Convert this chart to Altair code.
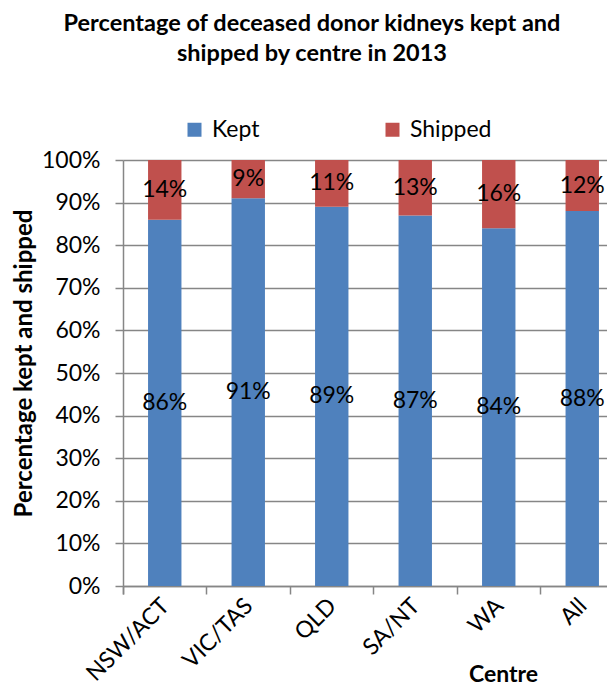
import altair as alt
import pandas as pd

centres = ["NSW/ACT", "VIC/TAS", "QLD", "SA/NT", "WA", "All"]
kept = [86, 91, 89, 87, 84, 88]
shipped = [14, 9, 11, 13, 16, 12]
series = ["Kept", "Shipped"]
colors = ["#4F81BD", "#C0504D"]
y_ticks = [0, 0.1, 0.2, 0.3, 0.4, 0.5, 0.6, 0.7, 0.8, 0.9, 1.0]

rows = []
for c, k, s in zip(centres, kept, shipped):
    rows.append({"centre": c, "type": "Kept", "order": 0, "value": k / 100, "label": f"{k}%"})
    rows.append({"centre": c, "type": "Shipped", "order": 1, "value": s / 100, "label": f"{s}%"})
df = pd.DataFrame(rows)

FONT = "Lato"
GRID = "#868686"
FS = 23

x_enc = alt.X(
    "centre:N",
    sort=centres,
    scale=alt.Scale(paddingInner=0, paddingOuter=0, range=[0, 501]),
    axis=alt.Axis(
        title="Centre",
        titleFont=FONT, titleFontSize=23, titleFontWeight="bold", titleColor="black",
        titleX=380, titleY=88, titleAlign="center", titleBaseline="middle", titleAngle=0,
        labelAngle=-45, labelAlign="right", labelBaseline="middle",
        labelFont=FONT, labelFontSize=FS, labelColor="black",
        labelOffset=1, labelPadding=8,
        bandPosition=0, tickExtra=True,
        tickColor=GRID, tickSize=8, tickWidth=1.5,
        domainColor=GRID, domainWidth=1.5, grid=False,
    ),
)

bars = alt.Chart(df).mark_bar(width=alt.RelativeBandSize(0.4)).encode(
    x=x_enc,
    y=alt.Y(
        "value:Q",
        stack="zero",
        scale=alt.Scale(domain=[0, 1], nice=False),
        axis=alt.Axis(
            values=y_ticks, format=".0%",
            title="Percentage kept and shipped",
            titleFont=FONT, titleFontSize=24, titleFontWeight="bold", titleColor="black",
            titleAngle=-90, titleX=-99, titleY=203, titleAlign="center", titleBaseline="middle",
            labelFont=FONT, labelFontSize=FS, labelColor="black", labelPadding=15,
            tickColor=GRID, tickSize=8, tickWidth=1.5,
            domainColor=GRID, domainWidth=1.5,
            gridColor=GRID, gridWidth=1.3,
        ),
    ),
    color=alt.Color(
        "type:N",
        scale=alt.Scale(domain=series, range=colors),
        legend=alt.Legend(
            title=None, orient="none", direction="horizontal",
            legendX=60, legendY=-42, padding=0,
            symbolType="square", symbolSize=196, symbolStrokeWidth=0,
            labelFont=FONT, labelFontSize=FS, labelColor="black",
            labelOffset=6, columnPadding=121,
        ),
    ),
    order=alt.Order("order:Q"),
)

labels = alt.Chart(df).transform_stack(
    stack="value", groupby=["centre"], as_=["y0", "y1"],
    sort=[alt.SortField("order")],
).transform_calculate(
    mid="(datum.y0 + datum.y1) / 2"
).mark_text(font=FONT, fontSize=FS, color="black", baseline="middle").encode(
    x=alt.X("centre:N", sort=centres),
    y=alt.Y("mid:Q"),
    text="label:N",
)

chart = alt.layer(bars, labels).properties(
    width=484,
    height=426,
    autosize=alt.AutoSizeParams(type="none"),
    padding={"left": 115, "top": 152, "right": 0, "bottom": 104},
    title=alt.TitleParams(
        text=["Percentage of deceased donor kidneys kept and", "shipped by centre in 2013"],
        font=FONT, fontSize=23.5, fontWeight="bold", color="black",
        anchor="middle", frame="group", dx=-53, lineHeight=30, offset=53,
    ),
).configure_view(stroke=None)

chart.save("out.html", embed_options={"renderer": "svg", "actions": False})
